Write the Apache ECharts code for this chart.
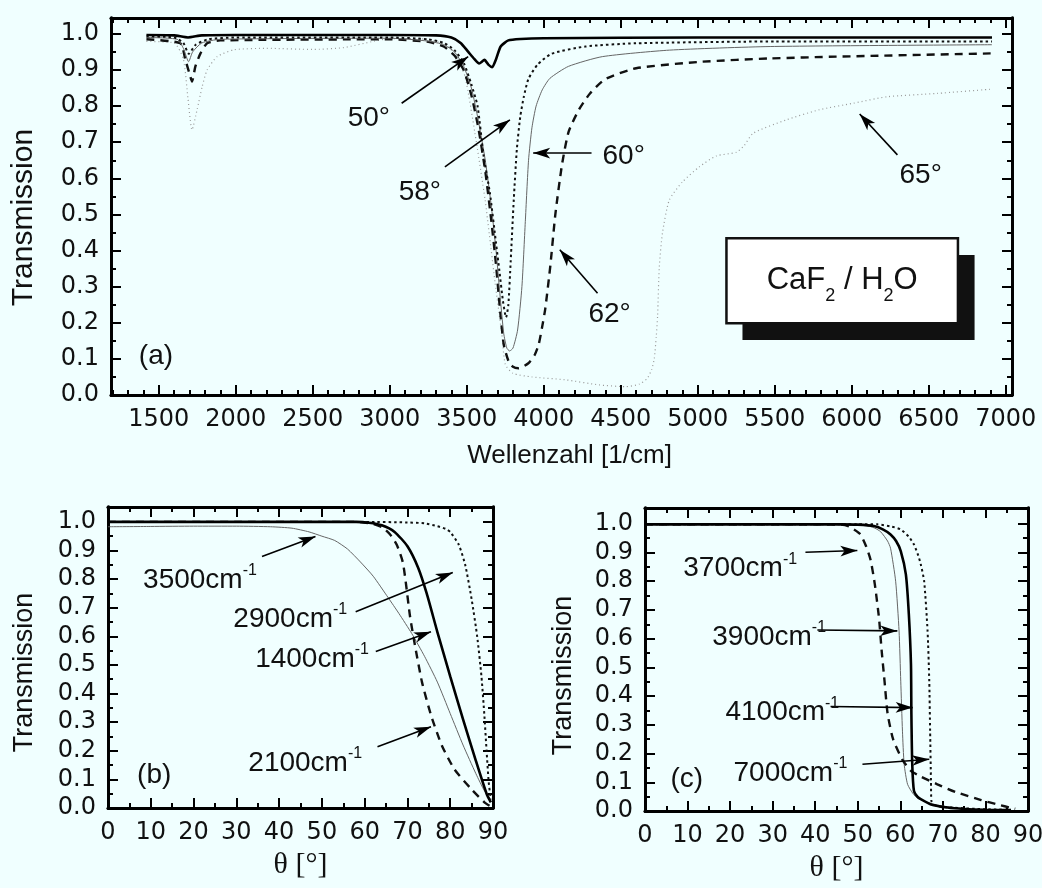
<!DOCTYPE html>
<html><head><meta charset="utf-8">
<script src="https://cdn.jsdelivr.net/npm/echarts@6/dist/echarts.min.js"></script>
<style>html,body{margin:0;padding:0;background:#f0ffff}#c{width:1042px;height:888px}</style>
</head><body><div id="c"></div><script>
// ---------- Panel (a): transmission vs wavenumber ----------
const wn50 = [1420,1600,1690,1780,2000,3000,3300,3400,3460,3510,3550,3580,3615,3640,3665,3690,3720,3770,3850,4000,5000,6910];
const t50  = [0.997,0.996,0.99,0.996,0.997,0.997,0.996,0.99,0.975,0.95,0.93,0.918,0.928,0.915,0.908,0.93,0.965,0.982,0.986,0.988,0.99,0.99];
const wn58 = [1420,1600,1660,1695,1740,1820,2000,3000,3250,3350,3420,3480,3530,3570,3610,3650,3690,3710,3735,3755,3770,3785,3805,3825,3847,3870,3900,3960,4050,4270,4600,5500,6910];
const t58  = [0.993,0.99,0.975,0.945,0.97,0.985,0.99,0.99,0.985,0.975,0.955,0.92,0.86,0.8,0.66,0.56,0.42,0.35,0.26,0.215,0.25,0.37,0.54,0.68,0.77,0.825,0.875,0.915,0.945,0.965,0.974,0.979,0.979];
const wn60 = [1420,1620,1660,1694,1720,1780,1900,3000,3250,3350,3420,3480,3530,3575,3620,3660,3690,3715,3740,3760,3778,3800,3830,3858,3880,3901,3923,3950,3990,4040,4160,4380,4815,5470,6910];
const t60  = [0.99,0.985,0.96,0.923,0.95,0.975,0.985,0.988,0.98,0.97,0.95,0.91,0.85,0.76,0.65,0.52,0.4,0.28,0.17,0.13,0.122,0.13,0.18,0.3,0.48,0.65,0.74,0.8,0.845,0.877,0.91,0.937,0.955,0.965,0.97];
const wn62 = [1420,1640,1673,1705,1716,1738,1771,1814,1900,3000,3250,3350,3420,3480,3530,3575,3620,3660,3690,3715,3740,3770,3800,3836,3900,3940,3967,3990,4010,4043,4075,4119,4162,4228,4300,4400,4600,5030,5470,5900,6910];
const t62  = [0.985,0.974,0.928,0.882,0.868,0.91,0.946,0.974,0.982,0.985,0.978,0.965,0.94,0.9,0.83,0.74,0.62,0.48,0.36,0.24,0.14,0.095,0.078,0.074,0.088,0.11,0.14,0.19,0.24,0.36,0.5,0.64,0.73,0.79,0.835,0.875,0.905,0.923,0.932,0.937,0.946];
const wn65 = [1420,1600,1660,1690,1716,1749,1782,1814,1879,1988,2200,2500,2700,2900,3000,3250,3380,3440,3490,3553,3619,3684,3727,3750,3800,3923,4141,4358,4530,4620,4670,4700,4717,4730,4739,4750,4771,4815,4900,5010,5120,5250,5300,5360,5575,5790,6010,6230,6550,6910];
const t65  = [0.979,0.975,0.93,0.82,0.734,0.79,0.854,0.9,0.937,0.956,0.96,0.957,0.962,0.98,0.987,0.985,0.965,0.93,0.88,0.725,0.54,0.31,0.17,0.085,0.06,0.05,0.042,0.028,0.023,0.03,0.045,0.07,0.1,0.16,0.22,0.355,0.45,0.54,0.59,0.632,0.662,0.672,0.69,0.725,0.762,0.79,0.808,0.826,0.835,0.847];
const waveMajorTicks = [1500,2000,2500,3000,3500,4000,4500,5000,5500,6000,6500,7000];
const topLabels = [['50°',2864,0.765],['58°',3195,0.561],['60°',4519,0.662],['62°',4427,0.224],['65°',6447,0.609],['(a)',1482,0.107]];
const topArrows = [[3077,0.808,3509,0.937],[3358,0.632,3780,0.762],[4310,0.67,3931,0.67],[4349,0.282,4104,0.402],[6296,0.665,6051,0.778]];
const boxArea = [5186,0.434,6689,0.199];
const boxShadow = [5290,0.388,6797,0.152];

// ---------- Panel (b): transmission vs angle ----------
const thB3500 = [0,10,20,30,38,43,47,50,53,56,59,62,65.5,68,71,74,77,80,83,86,88,89.5];
const tB3500  = [0.983,0.984,0.985,0.985,0.983,0.978,0.965,0.95,0.935,0.905,0.86,0.81,0.735,0.68,0.61,0.53,0.44,0.33,0.22,0.12,0.06,0.03];
const thB2900 = [0,30,60,70,74,77,79,80,82,83.5,85,86.3,87.3,88,88.5,89,89.5];
const tB2900  = [1.0,1.0,1.0,0.998,0.995,0.985,0.975,0.965,0.92,0.85,0.73,0.6,0.46,0.32,0.2,0.09,0.03];
const thB1400 = [0,30,58,61,64,67,70,72.5,74.5,77,80,83,86,88.5,89.5];
const tB1400  = [1.0,1.0,1.0,0.997,0.988,0.965,0.915,0.84,0.75,0.615,0.46,0.31,0.165,0.05,0.02];
const thB2100 = [0,30,58,62,64.2,66,67.5,68.9,69.6,70.6,71.8,73.4,75.5,78,81,85,88,89.5];
const tB2100  = [1.0,1.0,1.0,0.993,0.98,0.955,0.92,0.86,0.79,0.67,0.565,0.44,0.325,0.22,0.135,0.065,0.02,0.005];
const labelsB = [['3500',8.2,0.797],['2900',29.3,0.661],['1400',34.4,0.521],['2100',32.8,0.157]];
const arrowsB = [[36,0.879,48.5,0.949],[57.9,0.686,80.6,0.823],[62.6,0.547,75.5,0.616],[63,0.214,75.5,0.284]];
const tagB = ['(b)',10.8,0.115];

// ---------- Panel (c) ----------
const thC3700 = [0,40,46,48,50.5,52,53,54,55,55.6,56.3,57,58.3,60.5,62.5,64.8,68.7,73,79,83,86,87];
const tC3700  = [0.998,0.998,0.997,0.99,0.965,0.92,0.875,0.79,0.67,0.56,0.45,0.34,0.25,0.178,0.14,0.12,0.093,0.066,0.038,0.022,0.011,0.008];
const thC3900 = [0,45,51.5,54,55.4,57,57.7,58.9,59.7,60.1,60.5,60.9,61.7,63,64,66,68,72,75,80,86];
const tC3900  = [0.998,0.998,0.996,0.985,0.972,0.94,0.915,0.8,0.627,0.452,0.278,0.163,0.093,0.06,0.046,0.032,0.023,0.012,0.006,0.004,0.003];
const thC4100 = [0,46,50,53.8,56,57.7,59,60.1,61.3,62,62.5,62.6,62.8,63.2,64,64.8,67.2,71.1,75,80,86];
const tC4100  = [0.998,0.998,0.997,0.992,0.98,0.963,0.94,0.905,0.824,0.685,0.51,0.337,0.163,0.07,0.05,0.041,0.023,0.012,0.007,0.004,0.003];
const thC7000 = [0,50,54.6,58,60.1,62,63.2,64.2,64.8,65.6,66.4,66.8,67,67.2,67.3,68,68.7,72,80,86];
const tC7000  = [0.998,0.998,0.998,0.99,0.98,0.955,0.928,0.89,0.859,0.8,0.627,0.452,0.278,0.104,0.035,0.022,0.017,0.012,0.006,0.004];
const labelsC = [['3700',9.0,0.844],['3900',15.8,0.606],['4100',18.9,0.342],['7000',20.8,0.133]];
const arrowsC = [[37.7,0.901,49.9,0.907],[40.5,0.63,59.3,0.627],[43.6,0.364,62.9,0.36],[51.1,0.163,66.8,0.18]];
const tagC = ['(c)',9.8,0.111];

const angleMajorTicks = [0,10,20,30,40,50,60,70,80,90];
const transMajorTicks = [0,0.1,0.2,0.3,0.4,0.5,0.6,0.7,0.8,0.9,1.0];

// ---------- helpers ----------
const FT = 'DejaVu Sans', FS = 'Liberation Sans';
const zip = (a,b) => a.map((v,i)=>[v,b[i]]);
const minorOf = (lo,hi,step) => { const r=[]; for(let v=lo; v<=hi+1e-9; v+=step) r.push(+v.toFixed(4)); return r; };
const xAxes = [], yAxes = [];
const axisBase = (grid,min,max,pos) => ({gridIndex:grid,type:'value',min,max,position:pos,splitLine:{show:false},
  axisLine:{show:true,onZero:false,lineStyle:{color:'#000',width:2.8}}});
const tick = (len,vals) => ({show:true,inside:true,length:len,customValues:vals,lineStyle:{color:'#000',width:2}});
function frameX(grid,min,max,majors,minors,fmt,name,nameGap,nameFont){
  const i = xAxes.length;
  xAxes.push(Object.assign(axisBase(grid,min,max,'bottom'),{
    axisTick:tick(10,majors),
    axisLabel:{show:true,customValues:majors,formatter:fmt,color:'#111',fontFamily:FT,fontSize:24,margin:13},
    name, nameLocation:'middle', nameGap, nameTextStyle:nameFont}));
  xAxes.push(Object.assign(axisBase(grid,min,max,'bottom'),{axisTick:tick(5,minors),axisLabel:{show:false}}));
  xAxes.push(Object.assign(axisBase(grid,min,max,'top'),{axisTick:tick(10,majors),axisLabel:{show:false}}));
  xAxes.push(Object.assign(axisBase(grid,min,max,'top'),{axisTick:tick(5,minors),axisLabel:{show:false}}));
  return i;
}
function frameY(grid,min,max,majors,minors,nameGap,namePad,fs){
  const i = yAxes.length;
  yAxes.push(Object.assign(axisBase(grid,min,max,'left'),{
    axisTick:tick(10,majors),
    axisLabel:{show:true,customValues:majors,formatter:v=>v.toFixed(1),color:'#111',fontFamily:FT,fontSize:24,margin:12},
    name:'Transmission', nameLocation:'middle', nameGap, nameTextStyle:{fontFamily:FS,fontSize:fs,color:'#111',padding:namePad}}));
  yAxes.push(Object.assign(axisBase(grid,min,max,'left'),{axisTick:tick(5,minors),axisLabel:{show:false}}));
  yAxes.push(Object.assign(axisBase(grid,min,max,'right'),{axisTick:tick(10,majors),axisLabel:{show:false}}));
  yAxes.push(Object.assign(axisBase(grid,min,max,'right'),{axisTick:tick(5,minors),axisLabel:{show:false}}));
  return i;
}

const xa = frameX(0,1190,7040,waveMajorTicks,minorOf(1200,7000,100),v=>String(v),'Wellenzahl [1/cm]',48,{fontFamily:FS,fontSize:26,color:'#111',padding:[0,0,0,16]});
const ya = frameY(0,0,1.044,transMajorTicks,minorOf(0,1.0,0.05),72,[0,22,0,0],30);
const thetaName = {fontFamily:'Liberation Serif',fontSize:30,color:'#111'};
const xb = frameX(1,0,90,angleMajorTicks,minorOf(0,90,5),v=>String(v),'θ [°]',42,thetaName);
const yb = frameY(1,0,1.052,transMajorTicks,minorOf(0,1.0,0.05),70,[0,30,0,0],27);
const xc = frameX(2,0,90,angleMajorTicks,minorOf(0,90,5),v=>String(v),'θ [°]',42,thetaName);
const yc = frameY(2,0,1.055,transMajorTicks,minorOf(0,1.0,0.05),68,[0,32,0,0],27);

const SOLID_THICK = {color:'#000',width:2.6,type:'solid'};
const THIN_GRAY = {color:'#666',width:1,type:'solid'};
const DOTTED = {color:'#111',width:2,type:[2.5,3]};
const DASHED = {color:'#111',width:2.4,type:[8,6]};
const LIGHT_DOTS = {color:'#9a9a9a',width:1.2,type:[1,3]};

function line(xi,yi,xs,ys,style,extra){
  return Object.assign({type:'line',xAxisIndex:xi,yAxisIndex:yi,data:zip(xs,ys),showSymbol:false,symbol:'none',
    smooth:0.2,lineStyle:style,silent:true,animation:false,z:3},extra||{});
}
const arrowLine = arr => ({symbol:['none','arrow'],symbolSize:[8,17],silent:true,animation:false,
  label:{show:false},lineStyle:{color:'#000',width:1.6,type:'solid'},
  data:arr.map(a=>[{coord:[a[0],a[1]]},{coord:[a[2],a[3]]}])});
const richCm = {m:{fontFamily:FS,fontSize:28,color:'#111',lineHeight:34},s:{fontFamily:FS,fontSize:16,color:'#111',verticalAlign:'top',lineHeight:16}};
const textPoint = (t,x,y,align,rich,fmt) => ({coord:[x,y],symbol:'circle',symbolSize:1,itemStyle:{color:'rgba(0,0,0,0)'},
  label:{show:true,position:'inside',align:align,verticalAlign:'middle',formatter:fmt||t,fontFamily:FS,fontSize:28,color:'#111',rich:rich}});

const seriesA = [
  line(xa,ya,wn65,t65,LIGHT_DOTS),
  line(xa,ya,wn62,t62,DASHED),
  line(xa,ya,wn60,t60,THIN_GRAY),
  line(xa,ya,wn58,t58,DOTTED),
  line(xa,ya,wn50,t50,SOLID_THICK,{
    markLine:arrowLine(topArrows),
    markPoint:{silent:true,animation:false,data:topLabels.map(l=>textPoint(l[0],l[1],l[2],'center'))},
    markArea:{silent:true,animation:false,data:[
      [{coord:[boxShadow[0],boxShadow[1]],itemStyle:{color:'#111',borderWidth:0}},{coord:[boxShadow[2],boxShadow[3]]}],
      [{coord:[boxArea[0],boxArea[1]],itemStyle:{color:'#ffffff',borderColor:'#111',borderWidth:2.5},
        label:{show:true,position:'inside',formatter:'{m|CaF}{b|2}{m| / H}{b|2}{m|O}',
          rich:{m:{fontFamily:FS,fontSize:31,color:'#111',lineHeight:48},b:{fontFamily:FS,fontSize:18,color:'#111',verticalAlign:'bottom',lineHeight:20}}}},
       {coord:[boxArea[2],boxArea[3]]}]
    ]}
  })
];
const seriesB = [
  line(xb,yb,thB3500,tB3500,THIN_GRAY),
  line(xb,yb,thB2100,tB2100,DASHED),
  line(xb,yb,thB2900,tB2900,DOTTED),
  line(xb,yb,thB1400,tB1400,SOLID_THICK,{
    markLine:arrowLine(arrowsB),
    markPoint:{silent:true,animation:false,data:labelsB.map(l=>textPoint(l[0],l[1],l[2],'left',richCm,'{m|'+l[0]+'cm}{s|-1}'))
      .concat([textPoint(tagB[0],tagB[1],tagB[2],'center')])}
  })
];
const seriesC = [
  line(xc,yc,thC3900,tC3900,THIN_GRAY),
  line(xc,yc,thC3700,tC3700,DASHED),
  line(xc,yc,thC7000,tC7000,DOTTED),
  line(xc,yc,thC4100,tC4100,SOLID_THICK,{
    markLine:arrowLine(arrowsC),
    markPoint:{silent:true,animation:false,data:labelsC.map(l=>textPoint(l[0],l[1],l[2],'left',richCm,'{m|'+l[0]+'cm}{s|-1}'))
      .concat([textPoint(tagC[0],tagC[1],tagC[2],'center')])}
  })
];

const chart = echarts.init(document.getElementById('c'),null,{renderer:'canvas'});
chart.setOption({
  backgroundColor:'#f0ffff',
  animation:false,
  grid:[
    {left:111,top:18,width:901,height:377,outerBoundsMode:'none'},
    {left:108,top:507,width:385,height:301,outerBoundsMode:'none'},
    {left:645,top:508,width:383,height:303,outerBoundsMode:'none'}
  ],
  xAxis:xAxes,
  yAxis:yAxes,
  series:[].concat(seriesA,seriesB,seriesC)
});
</script></body></html>
